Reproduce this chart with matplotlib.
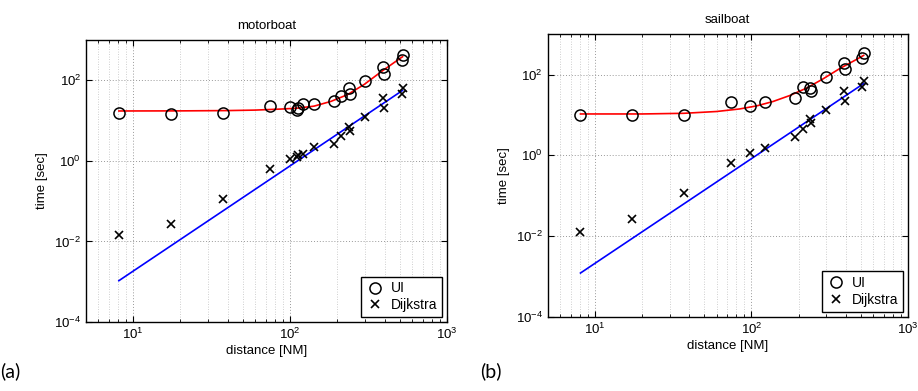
import numpy as np
import matplotlib
matplotlib.use("Agg")
import matplotlib.pyplot as plt
from matplotlib.ticker import LogLocator, NullLocator

plt.rcParams['font.family'] = ['Liberation Sans', 'DejaVu Sans']
plt.rcParams['mathtext.default'] = 'regular'

# motorboat: distance [NM], UI time [sec], Dijkstra time [sec]
mb_dist = [8.1, 17.5, 37.3, 74, 99.5, 111, 113, 121, 143, 191, 212, 239, 241, 301, 390, 397, 521, 515]
mb_ui = [15.0, 14.4, 15.2, 22.4, 21.5, 18.8, 20.5, 26.5, 26, 31, 41, 64, 46, 98, 212, 147, 422, 316]
mb_dijkstra = [0.0141, 0.0264, 0.114, 0.64, 1.1, 1.26, 1.4, 1.47, 2.24, 2.6, 4.2, 7.1, 5.6, 12.6, 37, 20.8, 64, 46]

# motorboat fitted curves
mb_ui_fit_x = [8.1, 20, 40, 60, 87, 111, 142, 182, 232, 297, 379, 484, 521]
mb_ui_fit_t = [17.3, 17.4, 17.7, 18.2, 19.3, 20.3, 22.8, 29.9, 43.9, 79, 161, 316, 385]
mb_dj_fit_x = [8.1, 521]
mb_dj_fit_t = [0.00106, 56]

# sailboat
sb_dist = [8.1, 17.4, 37.2, 73.8, 98.6, 122, 189, 213, 235, 241, 300, 388, 397, 521, 512]
sb_ui = [10, 10, 10, 20.5, 16.5, 21, 26.5, 48, 46, 40, 86, 196, 137, 340, 261]
sb_dijkstra = [0.0128, 0.026, 0.114, 0.64, 1.17, 1.52, 2.87, 4.4, 8.1, 6.2, 13.3, 40, 22.8, 68, 49]

sb_ui_fit_x = [8.1, 20, 37, 60, 84, 108, 137, 176, 224, 286, 366, 468, 521]
sb_ui_fit_t = [10.6, 10.6, 11.0, 12.2, 14.1, 16.8, 21.5, 30.4, 46, 78, 141, 237, 300]
sb_dj_fit_x = [8.1, 521]
sb_dj_fit_t = [0.00121, 60]

y_ticks = [1e-4, 1e-2, 1e0, 1e2]


def plot_panel(ax, title, dist, ui, dijkstra, ui_fx, ui_ft, dj_fx, dj_ft):
    ax.plot(ui_fx, ui_ft, color='r', lw=1.2, zorder=3)
    ax.plot(dj_fx, dj_ft, color='b', lw=1.2, zorder=3)
    ax.plot(dist, ui, 'o', ms=8, mfc='none', mec='k', mew=1.1, label='UI', zorder=4)
    ax.plot(dist, dijkstra, 'x', ms=5.5, color='k', mew=1.2, label='Dijkstra', zorder=4)

    ax.set_xscale('log')
    ax.set_yscale('log')
    ax.set_xlim(5, 1000)
    ax.set_ylim(1e-4, 1e3)
    ax.set_yticks(y_ticks)
    ax.yaxis.set_minor_locator(NullLocator())
    ax.xaxis.set_major_locator(LogLocator(base=10))
    ax.xaxis.set_minor_locator(LogLocator(base=10, subs=np.arange(2, 10)))

    ax.tick_params(which='both', direction='in', top=True, right=True, labelsize=9.5)
    ax.tick_params(which='major', length=4, width=0.8)
    ax.tick_params(which='minor', length=2, width=0.6)

    ax.grid(True, which='major', axis='both', linestyle=(0, (1, 2)), color='0.6', lw=0.7)
    ax.grid(True, which='minor', axis='x', linestyle=(0, (1, 2)), color='0.75', lw=0.6)
    for s in ax.spines.values():
        s.set_linewidth(1.0)
        s.set_color('k')

    ax.set_title(title, fontsize=9.5, pad=8)
    ax.set_xlabel('distance [NM]', fontsize=9.5, labelpad=2)
    ax.set_ylabel('time [sec]', fontsize=9.5, labelpad=4)

    leg = ax.legend(loc='lower right', fontsize=10, fancybox=False, framealpha=1,
                    edgecolor='k', borderaxespad=0.35, handlelength=1.3,
                    handletextpad=0.5, borderpad=0.35, labelspacing=0.2)
    leg.get_frame().set_linewidth(1.0)


fig = plt.figure(figsize=(9.18, 3.91), dpi=100)
ax1 = fig.add_axes([0.0937, 0.1765, 0.3932, 0.7212])
ax2 = fig.add_axes([0.5966, 0.190, 0.3925, 0.7223])

plot_panel(ax1, 'motorboat', mb_dist, mb_ui, mb_dijkstra,
           mb_ui_fit_x, mb_ui_fit_t, mb_dj_fit_x, mb_dj_fit_t)
plot_panel(ax2, 'sailboat', sb_dist, sb_ui, sb_dijkstra,
           sb_ui_fit_x, sb_ui_fit_t, sb_dj_fit_x, sb_dj_fit_t)

fig.text(0.0, 0.035, '(a)', fontsize=14, family=['Lato', 'DejaVu Sans'])
fig.text(0.523, 0.035, '(b)', fontsize=14, family=['Lato', 'DejaVu Sans'])

fig.savefig('out.png', dpi=100)
